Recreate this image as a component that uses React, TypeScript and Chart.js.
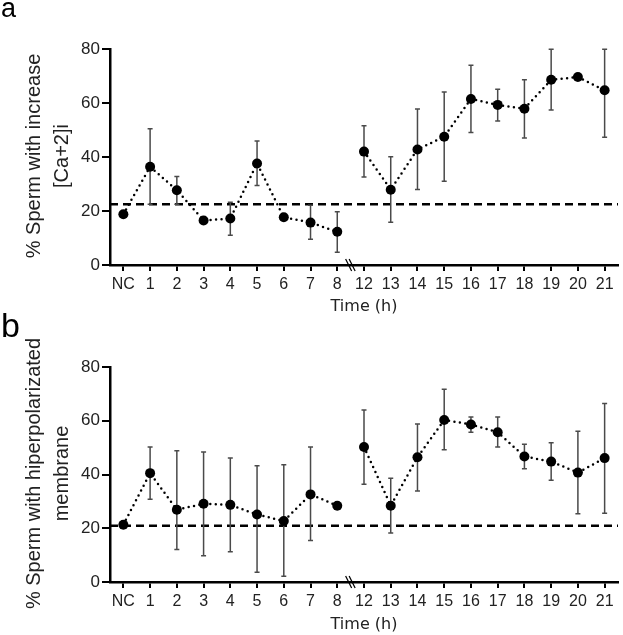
import React, { useEffect, useRef } from 'react';
import { Chart, registerables } from 'chart.js';

Chart.register(...registerables);

// categories (time in hours, with a break between 8 and 12)
const timeLabels = ['NC', '1', '2', '3', '4', '5', '6', '7', '8', '12', '13', '14', '15', '16', '17', '18', '19', '20', '21'];
const yTicks = [0, 20, 40, 60, 80];

// panel a: % sperm with increase [Ca+2]i
const caMean = [18.8, 36.4, 27.7, 16.5, 17.2, 37.6, 17.7, 15.7, 12.3, 42.0, 27.9, 42.8, 47.5, 61.5, 59.3, 57.9, 68.6, 69.6, 64.7];
const caUpper = [null, 50.5, 32.8, null, 23.2, 45.9, null, 22.1, 19.7, 51.6, 40.1, 57.8, 64.1, 74.0, 65.1, 68.6, 79.9, null, 79.9];
const caLower = [null, 22.5, 22.5, null, 11.0, 29.4, null, 9.5, 4.7, 32.6, 15.8, 28.0, 31.0, 49.1, 53.3, 47.0, 57.4, null, 47.3];
const caControl = 22.5;

// panel b: % sperm with hiperpolarizated membrane
const hpMean = [21.3, 40.5, 26.9, 29.1, 28.7, 25.1, 22.7, 32.6, 28.4, 50.2, 28.4, 46.4, 60.3, 58.6, 55.7, 46.7, 44.8, 40.7, 46.1];
const hpUpper = [null, 50.2, 48.8, 48.4, 46.1, 43.3, 43.6, 50.2, null, 64.0, 38.6, 58.8, 71.7, 61.4, 61.4, 51.3, 51.8, 56.1, 66.4];
const hpLower = [null, 30.8, 12.1, 9.8, 11.3, 3.6, 2.1, 15.4, null, 36.4, 18.2, 33.9, 49.2, 55.7, 50.2, 42.1, 37.9, 25.4, 25.6];
const hpControl = 20.9;

const breakAfter = timeLabels.indexOf('8');

const FONT = "'Liberation Sans', Arial, sans-serif";

// control line, error bars, axis break and the two-line y title
const decorPlugin = {
  id: 'decor',
  beforeDatasetsDraw(chart: any, _args: any, opts: any) {
    const { ctx, chartArea, scales } = chart;
    const x = scales.x;
    const y = scales.y;
    ctx.save();
    const yc = y.getPixelForValue(opts.control);
    ctx.strokeStyle = '#000';
    ctx.lineWidth = 2.5;
    ctx.setLineDash([8, 5]);
    ctx.beginPath();
    ctx.moveTo(chartArea.left, yc);
    ctx.lineTo(chartArea.right, yc);
    ctx.stroke();
    ctx.setLineDash([]);

    ctx.strokeStyle = '#4a4a4a';
    ctx.lineWidth = 1.5;
    opts.upper.forEach((u: number | null, i: number) => {
      const l = opts.lower[i];
      if (u == null || l == null) return;
      const px = x.getPixelForValue(i);
      const pu = y.getPixelForValue(u);
      const pl = y.getPixelForValue(l);
      ctx.beginPath();
      ctx.moveTo(px, pu);
      ctx.lineTo(px, pl);
      ctx.moveTo(px - 2.5, pu);
      ctx.lineTo(px + 2.5, pu);
      ctx.moveTo(px - 2.5, pl);
      ctx.lineTo(px + 2.5, pl);
      ctx.stroke();
    });
    ctx.restore();
  },
  afterDraw(chart: any, _args: any, opts: any) {
    const { ctx, chartArea, scales } = chart;
    const x = scales.x;
    ctx.save();
    // axis break marks
    const bx = (x.getPixelForValue(breakAfter) + x.getPixelForValue(breakAfter + 1)) / 2;
    const by = chartArea.bottom;
    ctx.strokeStyle = '#000';
    ctx.lineWidth = 1.3;
    [-2, 1.5].forEach((d) => {
      ctx.beginPath();
      ctx.moveTo(bx + d - 3, by - 6);
      ctx.lineTo(bx + d + 3, by + 6);
      ctx.stroke();
    });
    // y title
    ctx.fillStyle = '#222';
    ctx.font = `20px ${FONT}`;
    ctx.textAlign = 'center';
    ctx.textBaseline = 'middle';
    ctx.translate(chartArea.left - 76, (chartArea.top + chartArea.bottom) / 2 - 1);
    ctx.rotate(-Math.PI / 2);
    opts.title.forEach((line: string, i: number) => {
      ctx.fillText(line, 0, i * 28);
    });
    ctx.restore();
  },
};

interface PanelProps {
  mean: number[];
  upper: (number | null)[];
  lower: (number | null)[];
  control: number;
  title: string[];
  top: number;
  height: number;
  padTop: number;
  xHeight: number;
  letter: string;
}

const Panel: React.FC<PanelProps> = ({ mean, upper, lower, control, title, top, height, padTop, xHeight, letter }) => {
  const canvasRef = useRef<HTMLCanvasElement | null>(null);

  useEffect(() => {
    if (!canvasRef.current) return;
    const ctx = canvasRef.current.getContext('2d');
    if (!ctx) return;

    const chart = new Chart(ctx, {
      type: 'line',
      data: {
        labels: timeLabels,
        datasets: [{
          data: mean,
          borderColor: '#000',
          borderWidth: 2.5,
          borderDash: [0, 5.5],
          borderCapStyle: 'round',
          tension: 0,
          pointRadius: 5,
          pointBackgroundColor: '#000',
          pointBorderWidth: 0,
          segment: {
            borderColor: (c: any) => (c.p0DataIndex === breakAfter ? 'rgba(0,0,0,0)' : '#000'),
          },
        }],
      },
      options: {
        animation: false,
        responsive: true,
        maintainAspectRatio: false,
        layout: { padding: { top: padTop, right: 3, left: 0, bottom: 0 } },
        plugins: {
          legend: { display: false },
          tooltip: { enabled: false },
          decor: { control, upper, lower, title },
        } as any,
        scales: {
          x: {
            type: 'category',
            offset: true,
            afterFit: (s: any) => { s.height = xHeight; },
            grid: { offset: false, drawOnChartArea: false, drawTicks: true, tickLength: 6, color: '#000', lineWidth: 2 },
            border: { color: '#000', width: 2.5 },
            ticks: { color: '#222', font: { family: FONT, size: 16 }, padding: 4, maxRotation: 0, autoSkip: false },
            title: {
              display: true,
              text: 'Time (h)',
              color: '#222',
              font: { family: "'DejaVu Sans', Verdana, sans-serif", size: 16 },
              padding: { top: 0, bottom: 1 },
            },
          },
          y: {
            min: 0,
            max: 80,
            afterFit: (s: any) => { s.width = 110; },
            afterBuildTicks: (s: any) => { s.ticks = yTicks.map((v) => ({ value: v })); },
            grid: { drawOnChartArea: false, drawTicks: true, tickLength: 8, color: '#000', lineWidth: 2 },
            border: { color: '#000', width: 2.5 },
            ticks: { color: '#222', font: { family: FONT, size: 17 }, padding: 2 },
          },
        },
      },
      plugins: [decorPlugin],
    });

    return () => {
      chart.destroy();
    };
  }, [mean, upper, lower, control, title, padTop, xHeight]);

  return (
    <div style={{ position: 'absolute', left: 0, top, width: 623, height }}>
      <canvas ref={canvasRef} />
      <div
        style={{
          position: 'absolute',
          left: 1,
          top: letter === 'a' ? -5 : -9,
          fontFamily: FONT,
          fontSize: letter === 'a' ? 27 : 34,
          lineHeight: 1,
          color: '#000',
        }}
      >
        {letter}
      </div>
    </div>
  );
};

const App: React.FC = () => (
  <div style={{ position: 'absolute', left: 0, top: 0, width: 623, height: 635, background: '#fff' }}>
    <Panel mean={caMean} upper={caUpper} lower={caLower} control={caControl}
      title={['% Sperm with increase', '[Ca+2]i']} top={0} height={317} padTop={49} xHeight={52} letter="a" />
    <Panel mean={hpMean} upper={hpUpper} lower={hpLower} control={hpControl}
      title={['% Sperm with hiperpolarizated', 'membrane']} top={317} height={318} padTop={50} xHeight={53} letter="b" />
  </div>
);

export default App;
